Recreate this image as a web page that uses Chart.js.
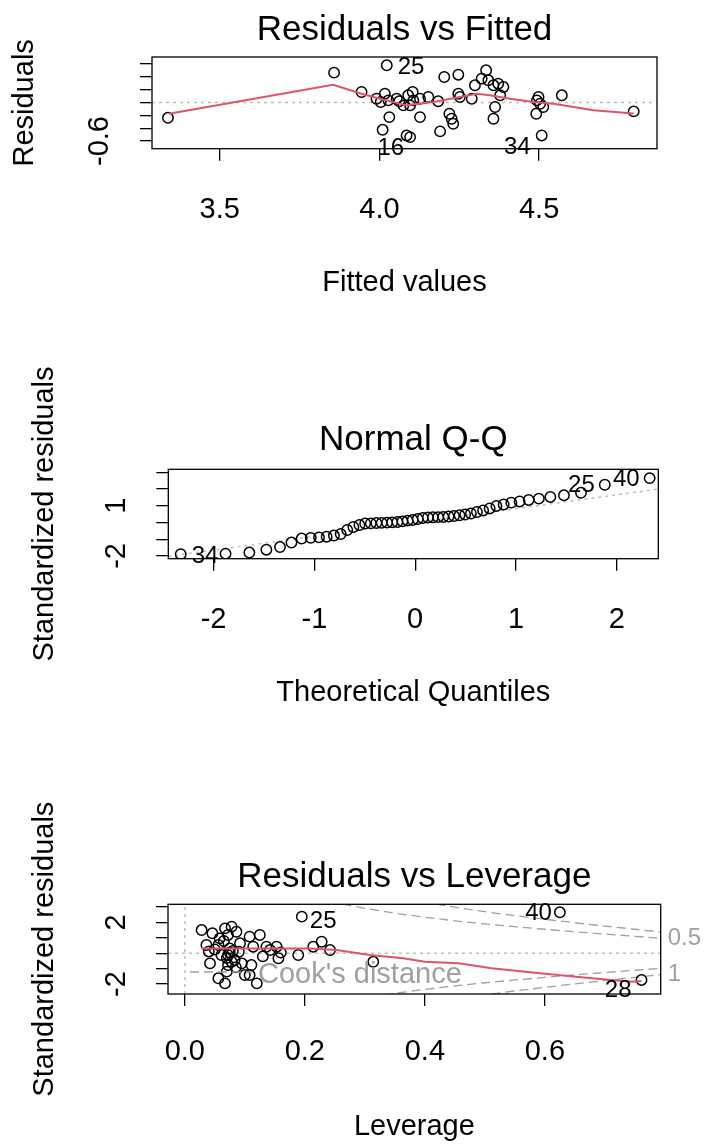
<!DOCTYPE html>
<html>
<head>
<meta charset="utf-8">
<script src="https://cdn.jsdelivr.net/npm/chart.js@4.4.1/dist/chart.umd.min.js"></script>
<style>
  body { margin: 0; background: #fff; }
  canvas { position: absolute; left: 0; }
</style>
</head>
<body>
<canvas id="fittedChart" width="706" height="382" style="top:0"></canvas>
<canvas id="qqChart" width="706" height="433" style="top:332px"></canvas>
<canvas id="leverageChart" width="706" height="382" style="top:765px"></canvas>
<script>
// --- Residuals vs Fitted ---
const fittedValues = [3.338, 3.858, 3.944, 4.023, 3.991, 4.017, 4.004, 4.028, 4.054, 4.075,
  4.031, 4.010, 4.090, 4.085, 4.096, 4.104, 4.106, 4.127, 4.127, 4.153,
  4.184, 4.203, 4.247, 4.247, 4.252, 4.219, 4.226, 4.231, 4.190, 4.289,
  4.299, 4.320, 4.334, 4.341, 4.357, 4.372, 4.388, 4.378, 4.362, 4.357,
  4.493, 4.503, 4.491, 4.513, 4.508, 4.571, 4.796, 4.498, 4.096, 4.062];
const residuals = [-0.238, 0.466, 0.164, 0.581, 0.059, 0.138, 0.008, 0.034, 0.059, -0.044,
  -0.227, -0.425, 0.113, -0.513, -0.539, 0.164, 0.034, 0.059, -0.227, 0.086,
  0.019, 0.398, 0.434, 0.138, 0.086, -0.175, -0.253, -0.331, -0.450, 0.059,
  0.269, 0.372, 0.503, 0.347, 0.269, 0.294, 0.242, 0.113, -0.070, -0.253,
  0.034, -0.019, -0.175, -0.070, -0.513, 0.113, -0.138, 0.086, -0.044, 0.020];
const smoothFitted = [3.341, 3.855, 3.944, 4.002, 4.085, 4.169, 4.252, 4.305, 4.346, 4.409, 4.482, 4.545, 4.608, 4.670, 4.796];
const smoothResid = [-0.175, 0.278, 0.138, 0.059, -0.044, 0.008, 0.086, 0.138, 0.113, 0.059, 0.008, -0.019, -0.070, -0.122, -0.170];
const fittedTicks = [3.5, 4.0, 4.5];
const fittedTickLabels = ['3.5', '4.0', '4.5'];
const residTicks = [-0.6, -0.4, -0.2, 0, 0.2, 0.4, 0.6];
const residTickLabels = [{ value: -0.6, text: '-0.6' }];

// --- Normal Q-Q ---
const theoQuantiles = [-2.326, -1.881, -1.645, -1.476, -1.341, -1.227, -1.126, -1.036, -0.954, -0.878,
  -0.806, -0.739, -0.674, -0.613, -0.553, -0.496, -0.440, -0.385, -0.332, -0.279,
  -0.228, -0.176, -0.126, -0.075, -0.025, 0.025, 0.075, 0.126, 0.176, 0.228,
  0.279, 0.332, 0.385, 0.440, 0.496, 0.553, 0.613, 0.674, 0.739, 0.806,
  0.878, 0.954, 1.036, 1.126, 1.227, 1.341, 1.476, 1.645, 1.881, 2.326];
const sortedStdResid = [-1.90, -1.87, -1.80, -1.63, -1.47, -1.20, -0.96, -0.92, -0.89, -0.85,
  -0.78, -0.69, -0.45, -0.27, -0.15, -0.06, -0.05, -0.03, -0.02, -0.01,
  0.01, 0.03, 0.07, 0.11, 0.15, 0.21, 0.27, 0.30, 0.31, 0.32,
  0.33, 0.36, 0.39, 0.43, 0.48, 0.54, 0.63, 0.72, 0.84, 0.99,
  1.08, 1.19, 1.26, 1.35, 1.43, 1.53, 1.63, 1.78, 2.26, 2.66];
const qqLineX = [-2.449, 2.412];
const qqLineY = [-2.03, 2.00];
const theoTicks = [-2, -1, 0, 1, 2];
const theoTickLabels = ['-2', '-1', '0', '1', '2'];
const stdTicks = [-2, -1, 0, 1, 2, 3];
const qqStdTickLabels = [{ value: -2, text: '-2' }, { value: 1, text: '1' }];

// --- Residuals vs Leverage ---
const leverage = [0.195, 0.028, 0.067, 0.078, 0.086, 0.072, 0.058, 0.108, 0.125, 0.036,
  0.056, 0.075, 0.092, 0.114, 0.136, 0.153, 0.156, 0.189, 0.214, 0.228,
  0.242, 0.314, 0.042, 0.072, 0.095, 0.111, 0.108, 0.056, 0.067, 0.120,
  0.072, 0.083, 0.061, 0.070, 0.100, 0.142, 0.625, 0.761, 0.075, 0.080,
  0.070, 0.065, 0.085, 0.090, 0.078, 0.050, 0.130, 0.160, 0.040, 0.046];
const levStdResid = [2.38, 1.51, 1.62, 1.73, 1.40, 1.19, 0.97, 1.08, 1.19, 0.54,
  0.54, 0.32, 0.65, 0.43, 0.43, 0.43, -0.32, -0.11, 0.43, 0.75,
  0.21, -0.55, -0.65, -0.76, -0.65, -0.76, -1.41, -1.62, -1.95, -1.95,
  -0.11, -0.43, -0.11, -1.19, -1.41, 0.21, 2.66, -1.73, 0.05, 0.15,
  -0.30, 0.80, -0.90, 0.10, -0.55, 0.25, -0.20, 0.05, 0.12, 1.30];
const levSmoothX = [0.028, 0.158, 0.208, 0.253, 0.308, 0.364, 0.400, 0.456, 0.511, 0.567, 0.622, 0.678, 0.745, 0.761];
const levSmoothY = [0.32, 0.32, 0.32, 0.21, -0.11, -0.32, -0.55, -0.65, -0.97, -1.19, -1.41, -1.62, -1.85, -1.80];
const cookHalfX = [0.24, 0.27, 0.30, 0.35, 0.40, 0.45, 0.50, 0.55, 0.60, 0.65, 0.70, 0.75, 0.793];
const cookHalfY = [3.40, 3.14, 2.92, 2.60, 2.34, 2.11, 1.91, 1.73, 1.56, 1.40, 1.25, 1.10, 0.976];
const cookOneX = [0.35, 0.40, 0.45, 0.50, 0.55, 0.60, 0.65, 0.70, 0.75, 0.793];
const cookOneY = [3.68, 3.31, 2.99, 2.70, 2.44, 2.21, 1.98, 1.77, 1.56, 1.38];
const cookLevelLabels = [{ value: 0.976, text: '0.5' }, { value: -1.38, text: '1' }];
const levTicks = [0.0, 0.2, 0.4, 0.6];
const levTickLabels = ['0.0', '0.2', '0.4', '0.6'];
const levStdTickLabels = [{ value: -2, text: '-2' }, { value: 2, text: '2' }];

const FONT = '"Liberation Sans", Arial, sans-serif';
const RED = '#DF536B';
const LIGHT_GRAY = '#BEBEBE';
const COOK_GRAY = '#A0A0A0';

const pairs = (xs, ys) => xs.map((x, i) => ({ x, y: ys[i] }));

// Box round the plot region, rotated y tick labels and point ids (R style)
const rDecor = {
    id: 'rDecor',
    afterDatasetsDraw(chart, args, opts) {
        const { ctx, chartArea: a, scales: { x, y } } = chart;
        ctx.save();
        ctx.strokeStyle = '#000';
        ctx.lineWidth = 1.3;
        ctx.strokeRect(a.left, a.top, a.right - a.left, a.bottom - a.top);

        ctx.fillStyle = '#000';
        ctx.font = '29px ' + FONT;
        ctx.textAlign = 'center';
        ctx.textBaseline = 'middle';
        opts.yLabels.forEach(t => {
            ctx.save();
            ctx.translate(a.left - opts.yLabelGap, y.getPixelForValue(t.value));
            ctx.rotate(-Math.PI / 2);
            ctx.fillText(t.text, 0, 0);
            ctx.restore();
        });

        ctx.font = '24px ' + FONT;
        const pts = chart.data.datasets[opts.pointSet].data;
        opts.ids.forEach(id => {
            const p = pts[id.index];
            ctx.textAlign = id.dx < 0 ? 'right' : 'left';
            ctx.fillText(id.text, x.getPixelForValue(p.x) + id.dx, y.getPixelForValue(p.y) + id.dy);
        });
        ctx.restore();
    }
};

const tickGrid = { drawOnChartArea: false, drawTicks: true, tickLength: 12, color: '#000', lineWidth: 1.3 };

function xAxis(min, max, ticks, labels, title, sz) {
    return {
        type: 'linear', position: 'bottom', min, max,
        afterBuildTicks: s => { s.ticks = ticks.map(v => ({ value: v })); },
        afterFit: s => { s.height = sz.height; },
        ticks: { autoSkip: false, maxRotation: 0, padding: sz.tickPad, color: '#000',
                 font: { family: FONT, size: 29 }, callback: (v, i) => labels[i] },
        grid: tickGrid,
        border: { display: false },
        title: { display: true, text: title, color: '#000', font: { family: FONT, size: 29 },
                 padding: { top: 0, bottom: sz.titlePad } }
    };
}

function yAxis(min, max, ticks, title, sz) {
    return {
        type: 'linear', position: 'left', min, max,
        afterBuildTicks: s => { s.ticks = ticks.map(v => ({ value: v })); },
        afterFit: s => { s.width = sz.width; },
        ticks: { display: false },
        grid: tickGrid,
        border: { display: false },
        title: { display: true, text: title, color: '#000', font: { family: FONT, size: 29 },
                 padding: { top: sz.titlePad, bottom: 0 } }
    };
}

function baseOptions(title, titlePad, layoutPad, scales, decor) {
    return {
        responsive: false,
        animation: false,
        events: [],
        layout: { padding: layoutPad },
        scales,
        plugins: {
            legend: { display: false },
            tooltip: { enabled: false },
            title: { display: true, text: title, fullSize: false, color: '#000',
                     font: { family: FONT, size: 35, weight: 'normal' }, padding: titlePad },
            rDecor: decor
        }
    };
}

const points = data => ({ data, showLine: false, pointStyle: 'circle', pointRadius: 5.2,
    pointBorderWidth: 1.5, pointBorderColor: '#000', pointBackgroundColor: 'rgba(0,0,0,0)' });
const line = (data, color, width, dash) => ({ data, showLine: true, pointRadius: 0,
    borderColor: color, borderWidth: width, borderDash: dash || [], tension: 0 });

// Panel 1
const fx = [3.288, 4.869], fy = [-0.72, 0.71];
new Chart(document.getElementById('fittedChart'), {
    type: 'scatter',
    data: { datasets: [
        line(pairs(smoothFitted, smoothResid), RED, 2),
        points(pairs(fittedValues, residuals)),
        line(pairs(fx, [0, 0]), LIGHT_GRAY, 1.5, [3, 4])
    ] },
    options: baseOptions('Residuals vs Fitted', { top: 9, bottom: 6 }, { left: 0, right: 49, top: 0, bottom: 0 }, {
        x: xAxis(fx[0], fx[1], fittedTicks, fittedTickLabels, 'Fitted values', { height: 233.3, tickPad: 31.9, titlePad: 81.6 }),
        y: yAxis(fy[0], fy[1], residTicks, 'Residuals', { width: 152, titlePad: 7.6 })
    }, { yLabels: residTickLabels, yLabelGap: 52, pointSet: 1,
         ids: [{ index: 3, text: '25', dx: 11, dy: 2 }, { index: 14, text: '16', dx: -6, dy: 11 }, { index: 44, text: '34', dx: -11, dy: 12 }] }),
    plugins: [rDecor]
});

// Panel 2 (canvas starts higher so the long y title is not cut)
const qx = [-2.449, 2.412], qy = [-2.168, 3.186];
new Chart(document.getElementById('qqChart'), {
    type: 'scatter',
    data: { datasets: [
        points(pairs(theoQuantiles, sortedStdResid)),
        line(pairs(qqLineX, qqLineY), LIGHT_GRAY, 1.5, [3, 4])
    ] },
    options: baseOptions('Normal Q-Q', { top: 7, bottom: 8.3 }, { left: 0, right: 47.7, top: 80, bottom: 0 }, {
        x: xAxis(qx[0], qx[1], theoTicks, theoTickLabels, 'Theoretical Quantiles', { height: 206.3, tickPad: 31.9, titlePad: 54.6 }),
        y: yAxis(qy[0], qy[1], stdTicks, 'Standardized residuals', { width: 168.3, titlePad: 27.6 })
    }, { yLabels: qqStdTickLabels, yLabelGap: 51, pointSet: 0,
         ids: [{ index: 0, text: '34', dx: 11, dy: 2 }, { index: 48, text: '25', dx: -10, dy: 1 }, { index: 49, text: '40', dx: -10, dy: 1 }] }),
    plugins: [rDecor]
});

// Panel 3: Cook's distance legend and contour level labels
const cookDecor = {
    id: 'cookDecor',
    afterDatasetsDraw(chart) {
        const { ctx, chartArea: a, scales: { y } } = chart;
        ctx.save();
        ctx.strokeStyle = COOK_GRAY;
        ctx.lineWidth = 1.3;
        ctx.setLineDash([9, 5]);
        ctx.beginPath();
        ctx.moveTo(a.left + 22, a.bottom - 22);
        ctx.lineTo(a.left + 84, a.bottom - 22);
        ctx.stroke();
        ctx.fillStyle = COOK_GRAY;
        ctx.font = '29px ' + FONT;
        ctx.textAlign = 'left';
        ctx.textBaseline = 'middle';
        ctx.fillText("Cook's distance", a.left + 90, a.bottom - 19);
        ctx.font = '24px ' + FONT;
        cookLevelLabels.forEach(t => ctx.fillText(t.text, a.right + 7, y.getPixelForValue(t.value)));
        ctx.restore();
    }
};

const lx = [-0.028, 0.793], ly = [-2.64, 3.18];
const negate = arr => arr.map(v => -v);
new Chart(document.getElementById('leverageChart'), {
    type: 'scatter',
    data: { datasets: [
        line(pairs(levSmoothX, levSmoothY), RED, 2),
        points(pairs(leverage, levStdResid)),
        line(pairs(cookHalfX, cookHalfY), COOK_GRAY, 1.3, [9, 5]),
        line(pairs(cookHalfX, negate(cookHalfY)), COOK_GRAY, 1.3, [9, 5]),
        line(pairs(cookOneX, cookOneY), COOK_GRAY, 1.3, [9, 5]),
        line(pairs(cookOneX, negate(cookOneY)), COOK_GRAY, 1.3, [9, 5]),
        line(pairs(lx, [0, 0]), LIGHT_GRAY, 1.5, [3, 4]),
        line(pairs([0, 0], ly), LIGHT_GRAY, 1.5, [3, 4])
    ] },
    options: baseOptions('Residuals vs Leverage', { top: 9, bottom: 6.3 }, { left: 0, right: 45.3, top: 82, bottom: 0 }, {
        x: xAxis(lx[0], lx[1], levTicks, levTickLabels, 'Leverage', { height: 153, tickPad: 28.6, titlePad: 2.6 }),
        y: yAxis(ly[0], ly[1], stdTicks, 'Standardized residuals', { width: 168, titlePad: 27.6 })
    }, { yLabels: levStdTickLabels, yLabelGap: 51, pointSet: 1,
         ids: [{ index: 0, text: '25', dx: 8, dy: 5 }, { index: 36, text: '40', dx: -8, dy: 1 }, { index: 37, text: '28', dx: -10, dy: 10 }] }),
    plugins: [cookDecor, rDecor]
});
</script>
</body>
</html>
